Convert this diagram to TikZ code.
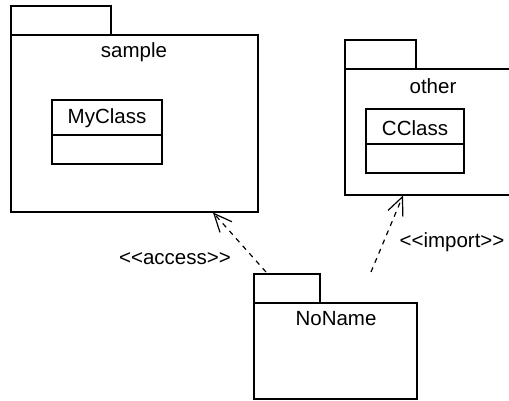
\documentclass[tikz,border=0pt]{standalone}
\usepackage{fontspec}
\setmainfont{Liberation Sans}
\usetikzlibrary{arrows.meta}
\tikzset{
  pkgbox/.style={draw, rectangle, inner sep=0pt, outer sep=0pt, fill=white},
  lbl/.style={font=\fontsize{20.5}{24}\selectfont, inner sep=0pt},
  dep/.style={dash pattern=on 5pt off 5pt, -{Straight Barb[length=18pt,width=16pt,line width=1.2pt]}}
}
\newcommand{\lt}{\textless\kern0pt}
\newcommand{\gt}{\kern0pt\textgreater}
\begin{document}
\begin{tikzpicture}[x=1pt,y=-1pt,line width=1.2pt]
\useasboundingbox (0,0) rectangle (509,401);
\clip (0,0) rectangle (509,401);
\fill[white] (0,0) rectangle (509,401);
% package sample
\node[pkgbox, minimum width=100pt, minimum height=29pt] (stab) at (61,20.5) {};
\node[pkgbox, minimum width=247pt, minimum height=177pt] (sample) at (134.5,123.5) {};
\node[lbl] (sname) at (134,52) {sample};
\node[pkgbox, minimum width=110pt, minimum height=35pt] (mc) at (107,117.5) {};
\node[pkgbox, minimum width=110pt, minimum height=29pt] (mcb) at (107,149.5) {};
\node[lbl] (mctxt) at (107,118) {MyClass};
% package other
\node[pkgbox, minimum width=71pt, minimum height=29pt] (otab) at (380.5,54.5) {};
\node[pkgbox, minimum width=185pt, minimum height=126pt] (other) at (437.5,132) {};
\node[lbl] (oname) at (433,86) {other};
\node[pkgbox, minimum width=98pt, minimum height=35pt] (cc) at (415,126.5) {};
\node[pkgbox, minimum width=98pt, minimum height=29pt] (ccb) at (415,158.5) {};
\node[lbl] (cctxt) at (415,128) {CClass};
% package NoName
\node[pkgbox, minimum width=66pt, minimum height=29pt] (ntab) at (287,288.5) {};
\node[pkgbox, minimum width=163pt, minimum height=96pt] (noname) at (335.5,351) {};
\node[lbl] (nname) at (336,319) {NoName};
% dependencies
\coordinate (accS) at (266,272);
\coordinate (accE) at (213,212.5);
\coordinate (impS) at (371,272);
\coordinate (impE) at (403,195.5);
\draw[dep] (accS) -- (accE);
\draw[dep] (impS) -- (impE);
\node[lbl] (acclbl) at (175,259) {\lt\lt access\gt\gt};
\node[lbl] (implbl) at (452,242) {\lt\lt import\gt\gt};
\end{tikzpicture}
\end{document}
